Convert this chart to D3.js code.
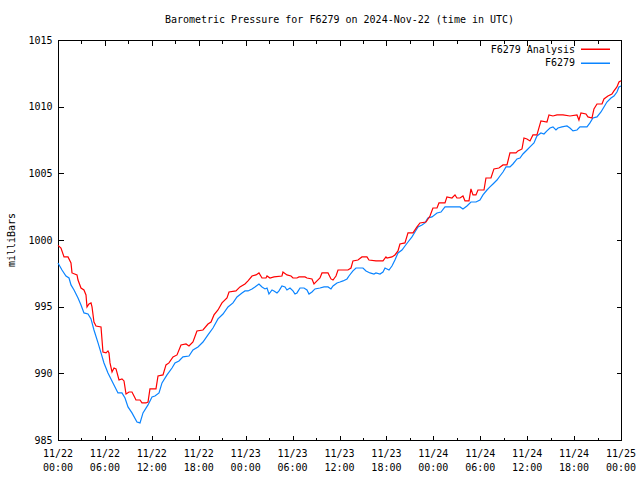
<!DOCTYPE html>
<html>
<head>
<meta charset="utf-8">
<script src="https://cdn.jsdelivr.net/npm/d3@7"></script>
<style>
  html, body { margin: 0; padding: 0; background: #fff; }
  svg { display: block; }
  text { font-family: "DejaVu Sans Mono", "Liberation Mono", monospace; font-size: 10px; fill: #000; }
</style>
</head>
<body>
<svg id="chart" width="640" height="480"></svg>
<script>
// ---- data ----
const title = "Barometric Pressure for F6279 on 2024-Nov-22 (time in UTC)";
const yLabel = "milliBars";
const seriesNames = ["F6279 Analysis", "F6279"];
const seriesColors = ["#ff0000", "#0a84ff"];

// hours since 2024-11-22 00:00 UTC
const analysisHours = [0,0.38,0.77,1.28,1.66,1.79,2.43,2.56,2.94,3.32,3.58,3.71,3.96,4.22,4.35,4.60,4.86,5.50,5.63,5.75,6.14,6.39,6.52,6.65,6.91,7.16,7.42,7.80,8.18,8.44,8.70,9.08,9.46,9.85,9.97,10.49,10.74,11.25,11.51,11.76,12.53,12.79,13.43,13.81,14.19,14.71,15.22,15.73,16.37,16.75,17.26,17.77,18.54,19.18,19.57,19.95,20.46,20.97,21.61,21.87,22.76,23.27,23.91,24.30,24.81,25.32,25.70,26.09,26.60,26.73,27.11,27.62,28.64,28.77,29.28,29.80,30.05,30.56,30.82,31.59,31.84,32.48,32.74,33.12,33.50,33.76,34.53,34.91,35.17,35.55,35.81,37.08,37.47,37.72,38.36,38.87,39.51,39.77,40.66,41.56,41.94,42.07,42.71,43.09,43.48,43.73,44.37,44.76,45.40,45.91,46.29,47.06,47.57,47.95,48.47,48.72,49.49,49.74,50.38,50.77,51.02,51.41,51.79,52.05,52.56,52.81,53.07,53.45,53.71,54.48,54.73,55.37,55.75,56.39,56.91,57.42,57.80,58.57,58.82,59.34,59.59,59.97,60.36,60.74,61.25,61.76,62.53,62.79,63.30,63.81,64.58,65.47,66.37,66.62,66.88,67.52,67.77,68.29,68.54,68.93,69.57,69.82,70.33,70.84,71.10,71.48,71.74,72];
const analysisValues = [999.6,999.4,998.73,998.73,998.28,997.53,997.38,997.0,996.4,996.25,995.88,994.98,995.2,995.28,994.98,993.85,993.55,993.48,992.5,991.6,991.53,991.68,991.53,990.78,990.1,990.4,990.33,989.5,989.58,989.43,988.45,988.6,988.6,988.15,988.0,988.0,987.78,987.78,987.85,988.83,988.83,989.8,989.88,990.63,990.78,991.23,991.38,992.13,992.2,992.05,992.35,993.18,993.25,993.7,993.85,994.38,994.75,995.28,995.65,996.1,996.18,996.48,996.7,996.93,997.3,997.38,997.53,997.15,997.15,997.3,997.15,997.23,997.3,997.6,997.38,997.3,997.15,997.15,997.23,997.23,997.15,997.08,996.7,996.93,997.15,997.53,997.53,997.08,997.0,997.3,997.75,997.75,997.9,998.43,998.5,998.73,998.73,998.5,998.43,998.43,998.73,998.65,998.73,998.88,999.18,999.7,999.78,1000.53,1000.53,1000.98,1001.28,1001.35,1001.8,1002.4,1002.4,1002.78,1002.78,1003.23,1003.15,1003.38,1003.15,1003.15,1003.3,1002.93,1002.93,1003.83,1003.38,1003.38,1003.75,1003.75,1004.65,1004.65,1005.33,1005.4,1005.63,1005.63,1006.53,1006.53,1006.68,1006.83,1007.65,1007.58,1007.43,1007.88,1007.88,1008.93,1008.85,1009.38,1009.3,1009.38,1009.38,1009.3,1009.38,1009.0,1009.53,1009.45,1009.23,1009.15,1009.83,1010.2,1010.2,1010.58,1010.8,1010.95,1011.18,1011.48,1011.85,1011.95];

const stationHours = [0,0.51,1.02,1.41,1.66,2.05,2.56,2.94,3.32,3.84,4.22,4.60,5.12,5.50,5.88,6.39,7.03,7.67,8.18,8.57,8.95,9.46,10.10,10.49,10.87,11.51,12.02,12.40,12.92,13.30,13.94,14.58,14.96,15.47,15.98,16.75,17.26,17.90,18.54,19.18,19.82,20.46,21.10,21.74,22.38,22.89,23.53,23.91,24.30,24.81,25.19,25.70,26.09,26.47,26.73,26.98,27.37,27.62,28.01,28.26,28.64,29.03,29.28,29.67,30.05,30.31,30.56,30.95,31.46,31.84,32.10,32.48,32.86,33.50,34.02,34.53,34.91,35.17,35.68,36.06,36.45,36.96,37.21,37.72,38.11,39.00,39.39,39.90,40.41,40.66,41.18,41.56,41.82,42.07,42.33,42.71,43.09,43.48,43.99,44.37,44.76,45.27,45.65,46.04,46.55,46.93,47.31,47.83,48.47,48.98,49.49,51.41,51.79,52.30,52.81,53.45,53.96,54.35,54.86,55.24,55.63,56.14,56.52,56.91,57.29,57.80,58.18,58.70,59.08,59.46,59.97,60.36,60.87,61.25,61.76,62.15,62.53,62.92,63.30,63.68,63.94,64.45,65.09,65.47,65.86,66.37,66.75,67.65,68.03,68.41,68.93,69.44,69.82,70.20,70.72,71.10,71.48,71.74,72];
const stationValues = [998.28,997.75,997.3,997.15,996.63,996.25,995.65,995.13,994.53,994.45,994.08,993.25,992.28,991.53,990.78,990.03,989.28,988.53,988.53,988.15,987.48,987.03,986.35,986.28,987.03,987.63,988.23,988.3,988.53,989.28,989.88,990.4,990.78,990.93,991.23,991.3,991.75,991.98,992.35,992.88,993.4,994.08,994.45,994.98,995.28,995.73,996.03,996.18,996.18,996.33,996.48,996.7,996.48,996.33,996.4,995.95,996.25,996.18,996.03,996.18,996.55,996.48,996.25,996.4,996.18,995.95,996.03,996.4,996.4,996.25,995.95,996.1,996.33,996.4,996.48,996.48,996.33,996.55,996.78,996.85,996.93,997.08,997.3,997.68,997.9,997.9,997.68,997.53,997.45,997.53,997.45,997.6,997.9,997.83,997.75,998.05,998.5,999.03,999.25,999.55,999.85,1000.23,1000.6,1000.98,1001.13,1001.28,1001.65,1001.73,1002.03,1002.1,1002.48,1002.48,1002.33,1002.55,1002.85,1002.85,1003.0,1003.38,1003.75,1003.98,1004.2,1004.5,1004.8,1005.1,1005.48,1005.48,1005.7,1006.08,1006.15,1006.45,1006.75,1006.98,1007.28,1007.8,1008.03,1007.95,1008.18,1008.4,1008.48,1008.25,1008.4,1008.48,1008.55,1008.4,1008.18,1008.25,1008.48,1008.48,1008.78,1009.15,1009.23,1009.6,1009.98,1010.35,1010.65,1010.8,1011.1,1011.48,1011.55];

const xMajorTicks = [0,6,12,18,24,30,36,42,48,54,60,66,72];
const xMinorTicks = [3,9,15,21,27,33,39,45,51,57,63,69];
const xTickDates = ["11/22","11/22","11/22","11/22","11/23","11/23","11/23","11/23","11/24","11/24","11/24","11/24","11/25"];
const xTickTimes = ["00:00","06:00","12:00","18:00","00:00","06:00","12:00","18:00","00:00","06:00","12:00","18:00","00:00"];
const yTicks = [985,990,995,1000,1005,1010,1015];

// ---- layout ----
const mLeft = 58, mRight = 621, mTop = 40, mBottom = 440;

const svg = d3.select("#chart");
const x = d3.scaleLinear().domain([0, 72]).range([mLeft, mRight]);
const y = d3.scaleLinear().domain([985, 1015]).range([mBottom, mTop]);

// title
svg.append("text").attr("x", (mLeft + mRight) / 2).attr("y", 23)
  .attr("text-anchor", "middle").text(title);

// y label
svg.append("text").attr("transform", `translate(15,${(mTop + mBottom) / 2}) rotate(-90)`)
  .attr("text-anchor", "middle").text(yLabel);

// axes
const gL = svg.append("g").attr("transform", `translate(${mLeft + 0.5},0)`)
  .call(d3.axisLeft(y).tickValues(yTicks).tickSize(-5).tickPadding(6).tickFormat(d3.format("d")));
const gR = svg.append("g").attr("transform", `translate(${mRight + 0.5},0)`)
  .call(d3.axisRight(y).tickValues(yTicks).tickSize(-5).tickFormat(""));
const gB = svg.append("g").attr("transform", `translate(0,${mBottom + 0.5})`)
  .call(d3.axisBottom(x).tickValues(xMajorTicks).tickSize(-5).tickFormat(""));
const gBm = svg.append("g").attr("transform", `translate(0,${mBottom + 0.5})`)
  .call(d3.axisBottom(x).tickValues(xMinorTicks).tickSize(-3).tickFormat(""));
const gT = svg.append("g").attr("transform", `translate(0,${mTop + 0.5})`)
  .call(d3.axisTop(x).tickValues(xMajorTicks).tickSize(-5).tickFormat(""));
const gTm = svg.append("g").attr("transform", `translate(0,${mTop + 0.5})`)
  .call(d3.axisTop(x).tickValues(xMinorTicks).tickSize(-3).tickFormat(""));

[gL, gR, gB, gBm, gT, gTm].forEach(g => {
  g.select(".domain").remove();
  g.selectAll("line").attr("stroke", "#000").attr("shape-rendering", "crispEdges");
  g.selectAll("text").attr("font-family", null).attr("font-size", null);
  g.attr("font-family", null).attr("font-size", null);
});

// x tick labels (two lines)
const xl = svg.append("g");
xMajorTicks.forEach((h, i) => {
  const t = xl.append("text").attr("text-anchor", "middle");
  t.append("tspan").attr("x", x(h)).attr("y", 457).text(xTickDates[i]);
  t.append("tspan").attr("x", x(h)).attr("y", 471).text(xTickTimes[i]);
});

// frame
svg.append("rect").attr("x", mLeft + 0.5).attr("y", mTop + 0.5)
  .attr("width", mRight - mLeft).attr("height", mBottom - mTop)
  .attr("fill", "none").attr("stroke", "#000").attr("shape-rendering", "crispEdges");

// lines
const line = d3.line().x(d => x(d[0])).y(d => y(d[1]));
const analysis = analysisHours.map((h, i) => [h, analysisValues[i]]);
const station = stationHours.map((h, i) => [h, stationValues[i]]);

svg.append("path").datum(station).attr("d", line)
  .attr("fill", "none").style("stroke", seriesColors[1]).attr("stroke-width", 1.2);
svg.append("path").datum(analysis).attr("d", line)
  .attr("fill", "none").style("stroke", seriesColors[0]).attr("stroke-width", 1.2);

// legend
const legend = svg.append("g");
seriesNames.forEach((name, i) => {
  const ly = 49 + i * 13.5;
  legend.append("text").attr("x", 575).attr("y", ly).attr("dy", "0.35em")
    .attr("text-anchor", "end").text(name);
  legend.append("rect").attr("x", 581).attr("width", 29)
    .attr("y", Math.round(ly) - 0.5).attr("height", 1.5)
    .style("fill", seriesColors[i]);
});
</script>
</body>
</html>
